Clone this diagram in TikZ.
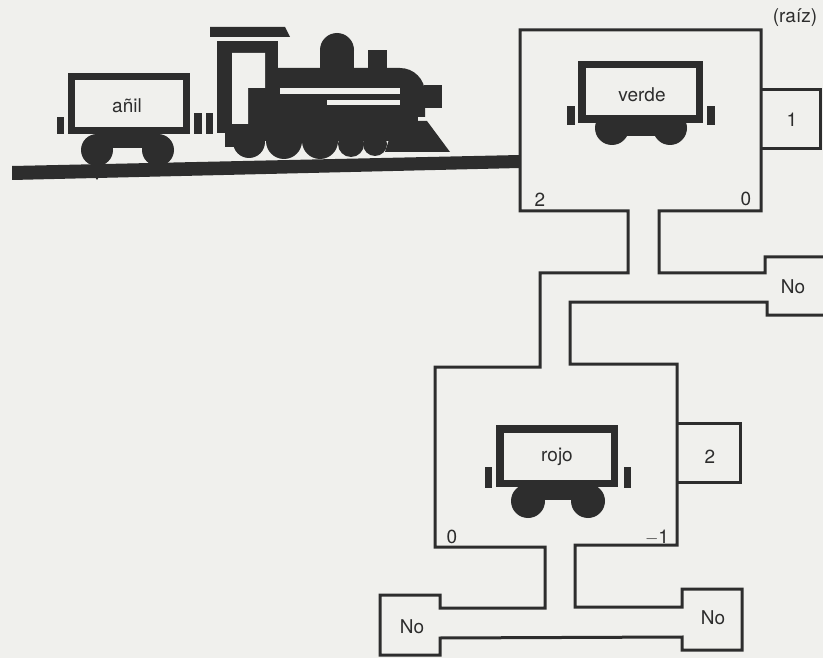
\documentclass[tikz,border=0pt]{standalone}
\usepackage{fontspec}
\setmainfont{TeX Gyre Heros}
\begin{document}
\begin{tikzpicture}[x=1pt,y=-1pt,
  track/.style={draw=inkc,line width=3pt,line join=miter},
  body/.style={draw=inkc,fill=paper,line width=7.5pt},
  lbl/.style={inner sep=0pt,text=inkc,font=\fontsize{19pt}{22pt}\selectfont}]
\definecolor{inkc}{RGB}{45,45,45}
\definecolor{paper}{RGB}{240,240,237}
\fill[paper] (0,0) rectangle (823,658);
\useasboundingbox (0,0) rectangle (823,658);
\clip (0,0) rectangle (823,658);

% rail
\fill[inkc] (12,166) -- (520,155) -- (520,168) -- (12,180) -- cycle;

% ---- anil wagon
\fill[inkc] (97,150) circle[radius=16pt];
\fill[inkc] (158,150) circle[radius=16pt];
\fill[inkc] (97,128) rectangle (158,148);
\fill[inkc] (92,172) -- (102,172) -- (97,180) -- cycle;
\draw[body] (71.5,76.5) rectangle (186.5,130.5);
\fill[inkc] (57,117) rectangle (64,134);
\fill[inkc] (194,113) rectangle (202,134);
\fill[inkc] (206,113) rectangle (213,134);
\node[lbl] (anil) at (127,106) {añil};

% ---- locomotive
\fill[inkc] (210,27) -- (285,27) -- (290,37) -- (210,37) -- cycle;
\fill[inkc] (217,41) rectangle (278,133);
\fill[inkc] (278,117) -- (278,68) -- (400,68)
   arc[start angle=90,end angle=0,radius=25pt] -- (425,117) -- cycle;
\fill[inkc] (424,85) rectangle (442,108);
\fill[inkc] (337,50) circle[radius=17pt];
\fill[inkc] (320,50) rectangle (354,70);
\fill[inkc] (368,50) rectangle (387,70);
\fill[inkc] (225,115) rectangle (418,141);
\fill[inkc] (225,130) rectangle (236,147);
\fill[inkc] (395,121) -- (427,121) -- (450,152) -- (385,152) -- cycle;
\fill[inkc] (249,142) circle[radius=16pt];
\fill[inkc] (284,141) circle[radius=18pt];
\fill[inkc] (320,141) circle[radius=18pt];
\fill[inkc] (351,144) circle[radius=13pt];
\fill[inkc] (375,144) circle[radius=12pt];
\fill[paper] (232,53) -- (265,53) -- (265,88) -- (248,88) -- (248,124) -- (232,124) -- cycle;
\fill[paper] (280,88) rectangle (400,94);
\fill[paper] (327,100) rectangle (400,105);

% ---- track outline
\draw[track] (520,30) -- (761,30) -- (761,211) -- (659,211) -- (659,273)
  -- (765,273) -- (765,257) -- (830,257)
  -- (830,315) -- (767,315) -- (767,302) -- (570,302) -- (570,364) -- (677,364)
  -- (677,545) -- (575,545)
  -- (575,607) -- (682,607) -- (682,589) -- (742,589) -- (742,650) -- (682,650)
  -- (682,637) -- (440,638) -- (440,655) -- (380,655) -- (380,595) -- (440,595)
  -- (440,608) -- (545,608) -- (545,547) -- (435,547) -- (435,367) -- (540,367)
  -- (540,273) -- (628,273) -- (628,211) -- (520,211) -- cycle;
% attached number boxes
\draw[track] (761,90) -- (820,90) -- (820,149) -- (761,149);
\draw[track] (677,423) -- (740,423) -- (740,482) -- (677,482);

% ---- verde wagon
\fill[inkc] (612,128) circle[radius=17pt];
\fill[inkc] (670,128) circle[radius=17pt];
\fill[inkc] (612,118) rectangle (670,136);
\draw[body] (581.75,64.75) rectangle (699.25,119.25);
\fill[inkc] (567,106) rectangle (575,125);
\fill[inkc] (707,106) rectangle (715,125);
\node[lbl] (verde) at (642,95) {verde};

% ---- rojo wagon
\fill[inkc] (528,501) circle[radius=17pt];
\fill[inkc] (588,501) circle[radius=17pt];
\fill[inkc] (528,485) rectangle (588,500);
\draw[body] (499.75,428.75) rectangle (614.25,483.25);
\fill[inkc] (485,467) rectangle (492,488);
\fill[inkc] (624,467) rectangle (631,488);
\node[lbl] (rojo) at (557,457) {rojo};

% ---- labels
\node[lbl] (raiz) at (795,18) {(raíz)};
\node[lbl] (vl) at (540,200) {2};
\node[lbl] (vr) at (746,199) {0};
\node[lbl] (uno) at (792,120) {1};
\node[lbl] (no1) at (793,287) {No};
\node[lbl] (dos) at (710,457) {2};
\node[lbl] (rl) at (452,537) {0};
\node[lbl] (rr) at (657,537) {$-$1};
\node[lbl] (no2) at (412,627) {No};
\node[lbl] (no3) at (713,618) {No};
\end{tikzpicture}
\end{document}
